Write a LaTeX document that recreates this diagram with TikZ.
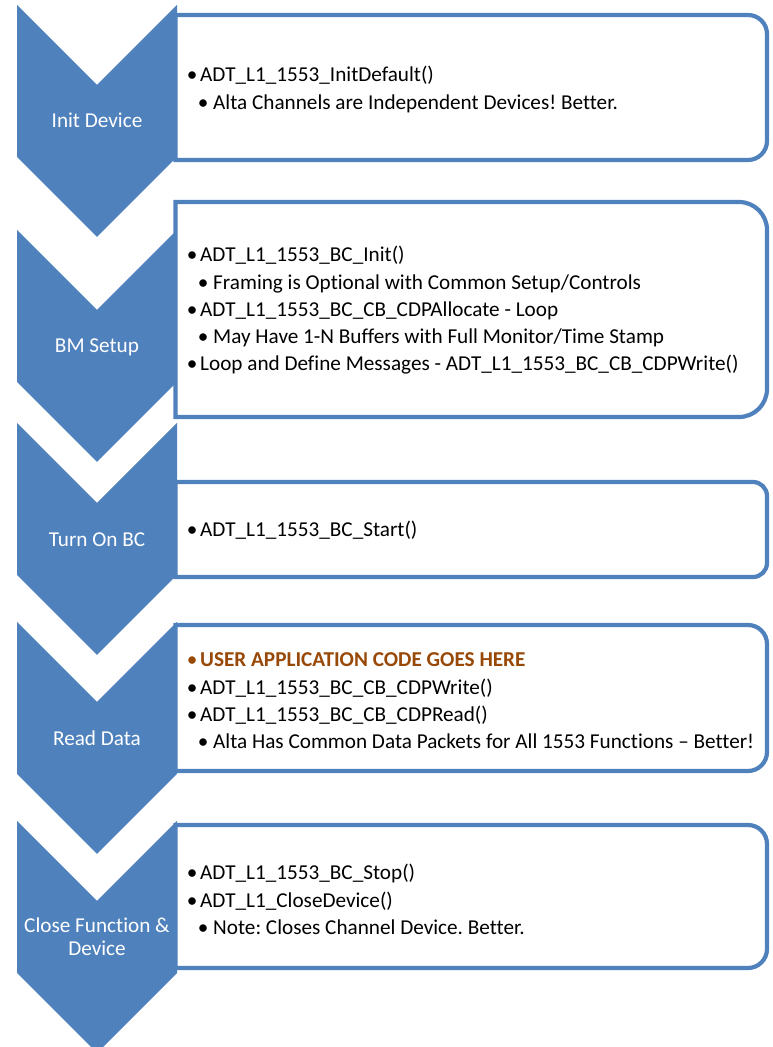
\documentclass[tikz,border=0pt]{standalone}
\usepackage{fontspec}
\setmainfont{Carlito}[Ligatures=NoCommon]
\frenchspacing
\definecolor{chevblue}{HTML}{4F81BD}
\definecolor{usrorange}{HTML}{984807}
\newcommand{\bulA}{\makebox[12pt][c]{\textbullet}\hspace{2pt}}
\newcommand{\bulB}{\hspace{11pt}\makebox[12pt][c]{\textbullet}\hspace{4pt}}
\begin{document}
\begin{tikzpicture}[x=1pt,y=1pt,
  chev/.style={fill=chevblue,draw=none},
  boxline/.style={draw=chevblue,line width=4.2pt,fill=white},
  chevlabel/.style={text=white,font=\fontsize{21.2}{23}\selectfont,inner sep=0pt,anchor=base},
  boxtext/.style={text=black,font=\fontsize{21.2}{27.2}\selectfont,inner sep=0pt,anchor=base west}]
\useasboundingbox (0,0) rectangle (772,1047);
\clip (0,0) rectangle (772,1047);
% chevrons
\draw[chev] (17,1042) -- ++(80,-80) -- ++(80,80) -- ++(0,-152) -- ++(-80,-80) -- ++(-80,80) -- cycle;
\draw[chev] (17,817) -- ++(80,-80) -- ++(80,80) -- ++(0,-152) -- ++(-80,-80) -- ++(-80,80) -- cycle;
\draw[chev] (17,624) -- ++(80,-80) -- ++(80,80) -- ++(0,-152) -- ++(-80,-80) -- ++(-80,80) -- cycle;
\draw[chev] (17,425) -- ++(80,-80) -- ++(80,80) -- ++(0,-152) -- ++(-80,-80) -- ++(-80,80) -- cycle;
\draw[chev] (17,226) -- ++(80,-80) -- ++(80,80) -- ++(0,-152) -- ++(-80,-80) -- ++(-80,80) -- cycle;
% boxes
\draw[boxline] (175.5,887) -- (175.5,1032) -- (748,1032) arc[start angle=90,end angle=0,radius=19] -- (767,906) arc[start angle=0,end angle=-90,radius=19] -- cycle;
\draw[boxline] (175.5,630) -- (175.5,845) -- (739,845) arc[start angle=90,end angle=0,radius=28] -- (767,658) arc[start angle=0,end angle=-90,radius=28] -- cycle;
\draw[boxline] (175.5,470) -- (175.5,565) -- (753,565) arc[start angle=90,end angle=0,radius=14] -- (767,484) arc[start angle=0,end angle=-90,radius=14] -- cycle;
\draw[boxline] (175.5,276) -- (175.5,422) -- (748,422) arc[start angle=90,end angle=0,radius=19] -- (767,295) arc[start angle=0,end angle=-90,radius=19] -- cycle;
\draw[boxline] (175.5,79) -- (175.5,222) -- (748,222) arc[start angle=90,end angle=0,radius=19] -- (767,98) arc[start angle=0,end angle=-90,radius=19] -- cycle;
% chevron labels
\node[chevlabel] (c1) at (97,919) {Init Device};
\node[chevlabel] (c2) at (97,694) {BM Setup};
\node[chevlabel] (c3) at (97,500) {Turn On BC};
\node[chevlabel] (c4) at (97,301) {Read Data};
\node[chevlabel] (c5) at (97,114) {\begin{tabular}[t]{@{}c@{}}Close Function \&\\Device\end{tabular}};
% box texts
\node[boxtext] (t1) at (186,965) {\begin{tabular}[t]{@{}l@{}}
\bulA ADT\_L1\_1553\_InitDefault()\\
\bulB Alta Channels are Independent Devices! Better.
\end{tabular}};
\node[boxtext] (t2) at (186,785) {\begin{tabular}[t]{@{}l@{}}
\bulA ADT\_L1\_1553\_BC\_Init()\\
\bulB Framing is Optional with Common Setup/Controls\\
\bulA ADT\_L1\_1553\_BC\_CB\_CDPAllocate - Loop\\
\bulB May Have 1-N Buffers with Full Monitor/Time Stamp\\
\bulA Loop and Define Messages - ADT\_L1\_1553\_BC\_CB\_CDPWrite()
\end{tabular}};
\node[boxtext] (t3) at (186,510) {\begin{tabular}[t]{@{}l@{}}
\bulA ADT\_L1\_1553\_BC\_Start()
\end{tabular}};
\node[boxtext] (t4) at (186,380) {\begin{tabular}[t]{@{}l@{}}
{\color{usrorange}\bulA\bfseries USER APPLICATION CODE GOES HERE}\\
\bulA ADT\_L1\_1553\_BC\_CB\_CDPWrite()\\
\bulA ADT\_L1\_1553\_BC\_CB\_CDPRead()\\
\bulB Alta Has Common Data Packets for All 1553 Functions – Better!
\end{tabular}};
\node[boxtext] (t5) at (186,167) {\begin{tabular}[t]{@{}l@{}}
\bulA ADT\_L1\_1553\_BC\_Stop()\\
\bulA ADT\_L1\_CloseDevice()\\
\bulB Note: Closes Channel Device. Better.
\end{tabular}};
\end{tikzpicture}
\end{document}
